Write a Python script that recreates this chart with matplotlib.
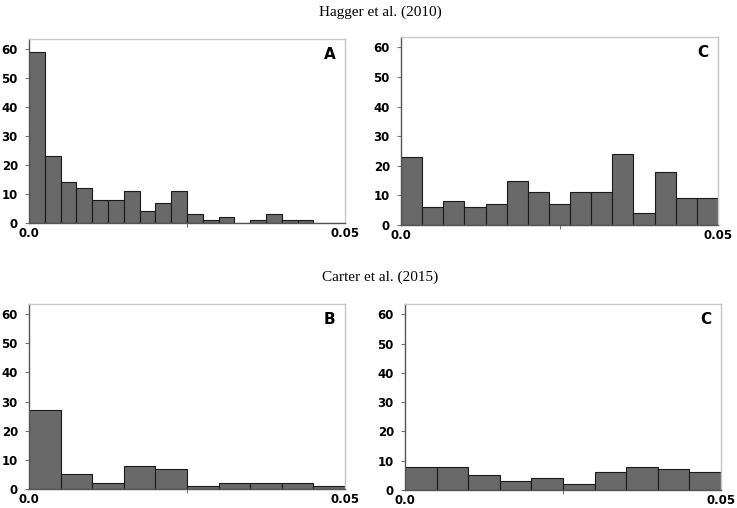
import numpy as np
import matplotlib
matplotlib.use("Agg")
import matplotlib.pyplot as plt

# Data (counts per bin, bins span 0.0 to 0.05)
hagger_A = [59, 23, 14, 12, 8, 8, 11, 4, 7, 11, 3, 1, 2, 0, 1, 3, 1, 1, 0, 0]
hagger_C = [23, 6, 8, 6, 7, 15, 11, 7, 11, 11, 24, 4, 18, 9, 9]
carter_B = [27, 5, 2, 8, 7, 1, 2, 2, 2, 1]
carter_C = [8, 8, 5, 3, 4, 2, 6, 8, 7, 6]
panel_labels = ["A", "C", "B", "C"]
xtick_labels = ["0.0", "0.05"]
yticks = [0, 10, 20, 30, 40, 50, 60]
titles = ["Hagger et al. (2010)", "Carter et al. (2015)"]

W, H = 737, 508
fig = plt.figure(figsize=(W / 100, H / 100), dpi=100)

def rect(l, r, t, b):
    return [l / W, 1 - b / H, (r - l) / W, (b - t) / H]

rects = [rect(29, 345, 39, 223), rect(401, 718, 37, 225),
         rect(29, 345, 304, 489), rect(405, 721, 304, 490)]
datasets = [hagger_A, hagger_C, carter_B, carter_C]

for r, counts, lab in zip(rects, datasets, panel_labels):
    ax = fig.add_axes(r)
    n = len(counts)
    edges = np.linspace(0, 0.05, n + 1)
    ax.bar(edges[:-1], counts, width=0.05 / n, align="edge",
           color="#696969", edgecolor="#1a1a1a", linewidth=0.8)
    ax.set_xlim(0, 0.05)
    ax.set_ylim(0, 63.5)
    ax.set_yticks(yticks)
    ax.set_yticklabels([str(v) for v in yticks], fontsize=8.5, fontweight="bold")
    ax.set_xticks([0, 0.05])
    ax.set_xticklabels(xtick_labels, fontsize=8.5, fontweight="bold")
    ax.set_xticks([0.025], minor=True)
    ax.tick_params(axis="x", which="major", length=0, pad=3)
    ax.tick_params(axis="x", which="minor", length=3, color="#555555", direction="out")
    ax.tick_params(axis="y", length=3, color="#777777", pad=5)
    for s in ["top", "right"]:
        ax.spines[s].set_color("#c8c8c8")
        ax.spines[s].set_linewidth(1.0)
    for s in ["left", "bottom"]:
        ax.spines[s].set_color("#555555")
        ax.spines[s].set_linewidth(1.0)
    ax.text(0.97, 0.955, lab, transform=ax.transAxes, ha="right", va="top",
            fontsize=11, fontweight="bold")

fig.text(380 / W, 1 - 12 / H, titles[0], ha="center", va="center",
         fontsize=11, family="Liberation Serif")
fig.text(380 / W, 1 - 277 / H, titles[1], ha="center", va="center",
         fontsize=11, family="Liberation Serif")

fig.savefig("out.png", dpi=100)
